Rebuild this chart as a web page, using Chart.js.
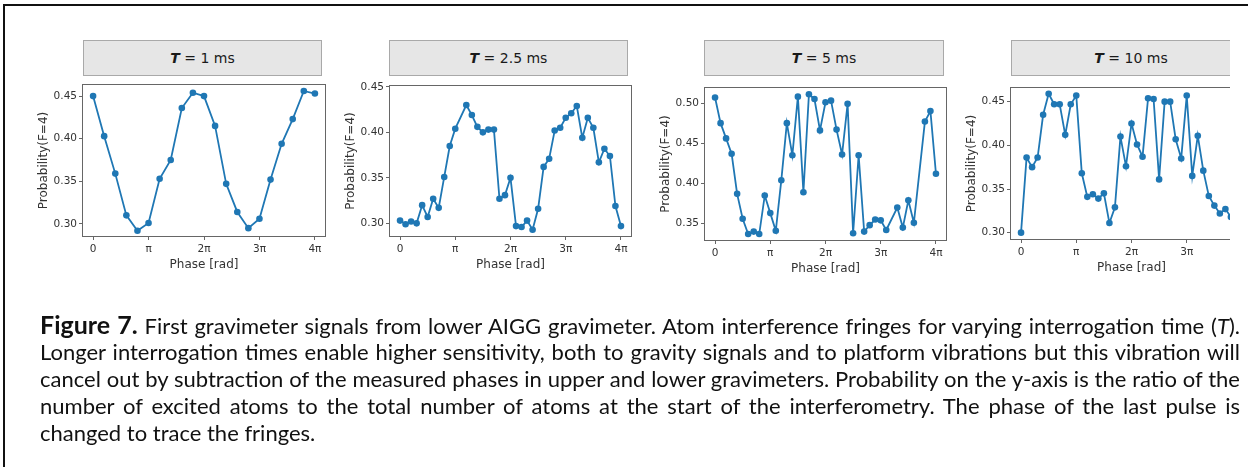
<!DOCTYPE html>
<html>
<head>
<meta charset="utf-8">
<script src="https://cdn.jsdelivr.net/npm/chart.js@4.4.1/dist/chart.umd.min.js"></script>
<style>
  html, body { margin: 0; padding: 0; background: #fff; }
  body { width: 1248px; height: 467px; overflow: hidden; position: relative; font-family: 'DejaVu Sans', sans-serif; }
  .frame { position: absolute; left: 3px; top: 4px; right: -10px; bottom: -10px;
           border-top: 2px solid #111; border-left: 2px solid #111; }
  .clip { position: absolute; left: 0; top: 0; width: 1230px; height: 292px; overflow: hidden; }
  .strip { position: absolute; box-sizing: border-box; height: 36px; top: 40px;
           background: #e6e6e6; border: 1px solid #a9a9a9; font-size: 14px; color: #1a1a1a;
           display: flex; align-items: center; justify-content: center; }
  canvas { position: absolute; }
  .caption { position: absolute; left: 40px; top: 311px; width: 1200px;
             font-family: Lato, 'Open Sans', sans-serif;
             font-size: 22px; color: #111; }
  .caption div { height: 27px; line-height: 27px; white-space: nowrap; text-align: justify; text-align-last: justify; }
  .caption div.last { text-align-last: left; }
  .caption b { font-size: 25px; }
</style>
</head>
<body>

<div class="clip">
  <div class="strip" style="left:83px;width:239px;"><span><b><i>T</i></b> = 1 ms</span></div>
  <div class="strip" style="left:389px;width:239px;"><span><b><i>T</i></b> = 2.5 ms</span></div>
  <div class="strip" style="left:704px;width:240px;"><span><b><i>T</i></b> = 5 ms</span></div>
  <div class="strip" style="left:1011px;width:240px;"><span><b><i>T</i></b> = 10 ms</span></div>
  <canvas id="c1"></canvas>
  <canvas id="c2"></canvas>
  <canvas id="c3"></canvas>
  <canvas id="c4"></canvas>
</div>

<div class="frame"></div>

<div class="caption">
  <div><b>Figure 7.</b> First gravimeter signals from lower AIGG gravimeter. Atom interference fringes for varying interrogation time (<i>T</i>).</div>
  <div>Longer interrogation times enable higher sensitivity, both to gravity signals and to platform vibrations but this vibration will</div>
  <div>cancel out by subtraction of the measured phases in upper and lower gravimeters. Probability on the y-axis is the ratio of the</div>
  <div>number of excited atoms to the total number of atoms at the start of the interferometry. The phase of the last pulse is</div>
  <div class="last">changed to trace the fringes.</div>
</div>

<script>
'use strict';

// ── Data (phase in units of π) ─────────────────
const phase1 = [0, 0.2, 0.4, 0.6, 0.8, 1.0, 1.2, 1.4, 1.6, 1.8, 2.0, 2.2, 2.4, 2.6, 2.8, 3.0, 3.2, 3.4, 3.6, 3.8, 4.0];
const prob1  = [0.450, 0.403, 0.359, 0.310, 0.292, 0.301, 0.353, 0.375, 0.436, 0.454, 0.450,
                0.415, 0.347, 0.314, 0.295, 0.306, 0.352, 0.394, 0.423, 0.456, 0.453];

const phase2 = [0, 0.1, 0.2, 0.3, 0.4, 0.5, 0.6, 0.7, 0.8, 0.9, 1.0, 1.2, 1.3, 1.4, 1.5, 1.6, 1.7, 1.8, 1.9, 2.0,
                2.1, 2.2, 2.3, 2.4, 2.5, 2.6, 2.7, 2.8, 2.9, 3.0, 3.1, 3.2, 3.3, 3.4, 3.5, 3.6, 3.7, 3.8, 3.9, 4.0];
const prob2  = [0.303, 0.299, 0.302, 0.300, 0.320, 0.307, 0.327, 0.317, 0.351, 0.385, 0.404, 0.430, 0.419, 0.406,
                0.400, 0.403, 0.403, 0.327, 0.331, 0.350, 0.297, 0.296, 0.303, 0.293, 0.316, 0.362, 0.371, 0.402,
                0.405, 0.416, 0.421, 0.429, 0.394, 0.416, 0.405, 0.367, 0.382, 0.374, 0.319, 0.297];

const phase3 = [0, 0.1, 0.2, 0.3, 0.4, 0.5, 0.6, 0.7, 0.8, 0.9, 1.0, 1.1, 1.2, 1.3, 1.4, 1.5, 1.6, 1.7, 1.8, 1.9,
                2.0, 2.1, 2.2, 2.3, 2.4, 2.5, 2.6, 2.7, 2.8, 2.9, 3.0, 3.1, 3.3, 3.4, 3.5, 3.6, 3.8, 3.9, 4.0];
const prob3  = [0.507, 0.475, 0.456, 0.437, 0.387, 0.356, 0.337, 0.340, 0.337, 0.385, 0.363, 0.341, 0.404,
                0.475, 0.435, 0.508, 0.389, 0.511, 0.505, 0.466, 0.501, 0.503, 0.467, 0.436, 0.499, 0.338,
                0.435, 0.340, 0.348, 0.355, 0.354, 0.342, 0.370, 0.345, 0.379, 0.351, 0.477, 0.490, 0.412];

const phase4 = [0, 0.1, 0.2, 0.3, 0.4, 0.5, 0.6, 0.7, 0.8, 0.9, 1.0, 1.1, 1.2, 1.3, 1.4, 1.5, 1.6, 1.7, 1.8, 1.9,
                2.0, 2.1, 2.2, 2.3, 2.4, 2.5, 2.6, 2.7, 2.8, 2.9, 3.0, 3.1, 3.2, 3.3, 3.4, 3.5, 3.6, 3.7, 3.8];
const prob4  = [0.300, 0.386, 0.375, 0.386, 0.435, 0.459, 0.447, 0.447, 0.412, 0.447, 0.457, 0.368, 0.341,
                0.344, 0.339, 0.345, 0.311, 0.329, 0.410, 0.376, 0.425, 0.401, 0.387, 0.454, 0.453, 0.361,
                0.450, 0.450, 0.407, 0.385, 0.457, 0.365, 0.411, 0.371, 0.342, 0.331, 0.322, 0.327, 0.318];

const phaseTicks  = [0, 1, 2, 3, 4];
const phaseLabels = ['0', 'π', '2π', '3π', '4π'];
const probTicksA  = [0.30, 0.35, 0.40, 0.45];
const probTicksB  = [0.35, 0.40, 0.45, 0.50];

// ── Look ───────────────────────────────────────
const BLUE   = '#1f77b4';
const AXIS   = '#666';
const TEXT   = '#333';
const FONT   = "'DejaVu Sans', sans-serif";
const YW     = 45;   // width of y scale area
const XH     = 35;   // height of x scale area
const PAD_T  = 10;
const PAD_R  = 10;

// draws the full axes box like matplotlib spines
const boxPlugin = {
  id: 'box',
  afterDraw(chart) {
    const { ctx, chartArea: a } = chart;
    ctx.save();
    ctx.strokeStyle = AXIS;
    ctx.lineWidth = 1;
    ctx.strokeRect(a.left + 0.5, a.top + 0.5, a.right - a.left - 1, a.bottom - a.top - 1);
    ctx.restore();
  }
};

function makePanel(id, box, xs, ys, yTicks, yMin, yMax) {
  const cv = document.getElementById(id);
  const w = YW + (box.r - box.l) + PAD_R;
  const h = PAD_T + (box.b - box.t) + XH;
  cv.width = w; cv.height = h;
  cv.style.width = w + 'px'; cv.style.height = h + 'px';
  cv.style.left = (box.l - YW) + 'px';
  cv.style.top = (box.t - PAD_T) + 'px';

  return new Chart(cv, {
    type: 'line',
    data: {
      datasets: [{
        data: xs.map((x, i) => ({ x, y: ys[i] })),
        borderColor: BLUE,
        backgroundColor: BLUE,
        borderWidth: 1.8,
        pointRadius: 3.3,
        pointBorderWidth: 0,
        pointHoverRadius: 3.3,
        tension: 0,
      }],
    },
    options: {
      responsive: false,
      animation: false,
      events: [],
      layout: { padding: { top: PAD_T, right: PAD_R, left: 0, bottom: 0 } },
      plugins: { legend: { display: false }, tooltip: { enabled: false } },
      scales: {
        x: {
          type: 'linear', min: -0.2, max: 4.2,
          afterBuildTicks: s => { s.ticks = phaseTicks.map(v => ({ value: v })); },
          afterFit: s => { s.height = XH; },
          ticks: {
            callback: v => phaseLabels[phaseTicks.indexOf(v)],
            color: TEXT, font: { family: FONT, size: 10.5 }, padding: 3,
            maxRotation: 0, autoSkip: false,
          },
          grid: { drawOnChartArea: false, drawTicks: true, tickLength: 3, color: AXIS },
          border: { display: false },
          title: { display: true, text: 'Phase [rad]', color: TEXT, font: { family: FONT, size: 12 }, padding: 0 },
        },
        y: {
          type: 'linear', min: yMin, max: yMax,
          afterBuildTicks: s => { s.ticks = yTicks.map(v => ({ value: v })); },
          afterFit: s => { s.width = YW; },
          ticks: {
            callback: v => v.toFixed(2),
            color: TEXT, font: { family: FONT, size: 10.5 }, padding: 2,
          },
          grid: { drawOnChartArea: false, drawTicks: true, tickLength: 3, color: AXIS },
          border: { display: false },
          title: { display: true, text: 'Probability(F=4)', color: TEXT, font: { family: FONT, size: 12 }, padding: 0 },
        },
      },
    },
    plugins: [boxPlugin],
  });
}

makePanel('c1', { l: 82,   r: 326,  t: 84, b: 237 }, phase1, prob1, probTicksA, 0.2846, 0.4642);
makePanel('c2', { l: 389,  r: 632,  t: 85, b: 237 }, phase2, prob2, probTicksA, 0.285,  0.452);
makePanel('c3', { l: 704,  r: 947,  t: 87, b: 241 }, phase3, prob3, probTicksB, 0.3283, 0.520);
makePanel('c4', { l: 1010, r: 1253, t: 87, b: 240 }, phase4, prob4, probTicksA, 0.2916, 0.4668);
</script>
</body>
</html>
